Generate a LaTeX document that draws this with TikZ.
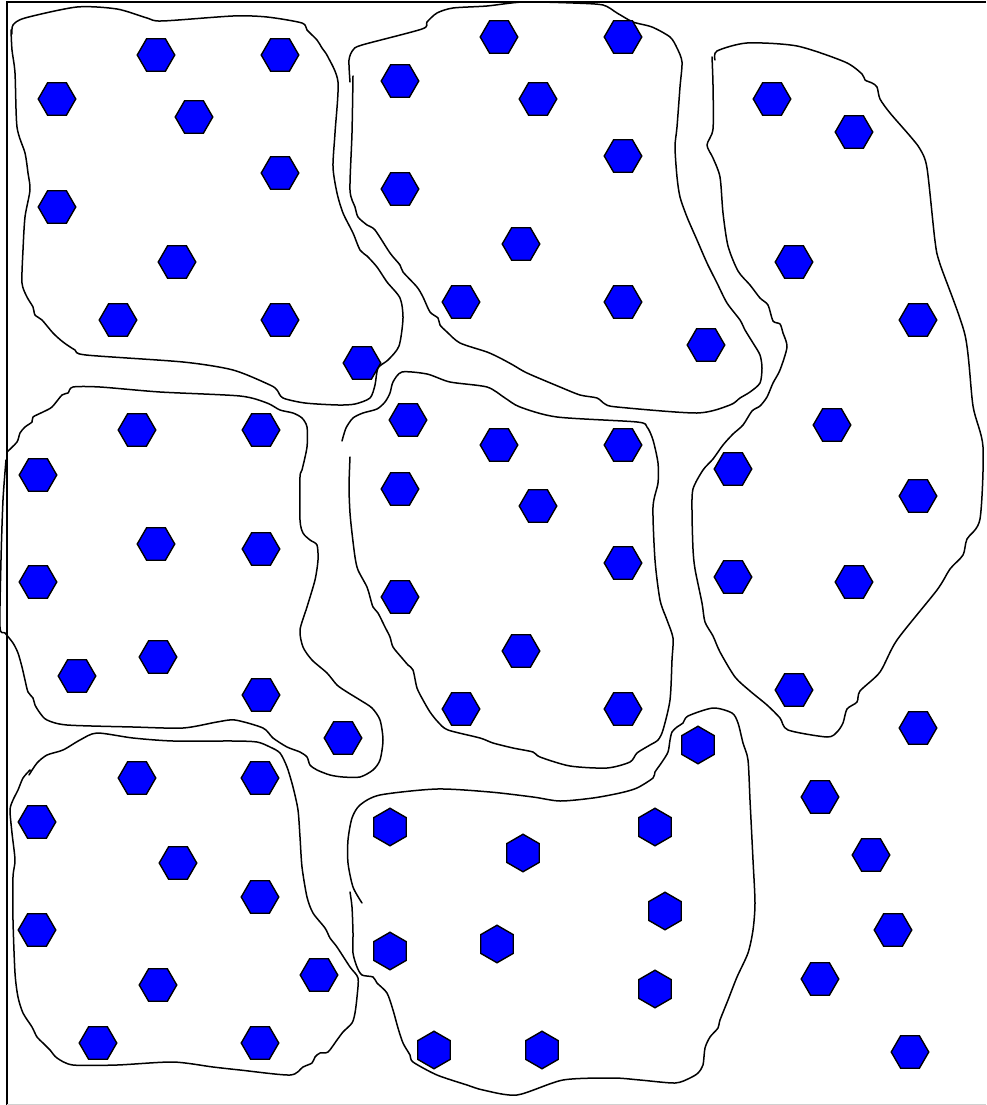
\documentclass[tikz,border=0pt]{standalone}
\usepackage{tikz}
\usetikzlibrary{shapes.geometric}
\definecolor{hexblue}{HTML}{0000FF}
\definecolor{edgegray}{HTML}{D0D0D0}
\tikzset{
  hexcell/.style  = {regular polygon, regular polygon sides=6, draw=black, fill=hexblue,
                     line width=1.4pt, minimum size=37.5pt, inner sep=0pt, outer sep=0pt},
  hexup/.style    = {hexcell, shape border rotate=90},
  blob/.style     = {line width=1.5pt, line join=round, line cap=round},
  framebox/.style = {line width=1.5pt},
}

\begin{document}
\begin{tikzpicture}[x=1pt,y=-1pt]
\useasboundingbox (0,0) rectangle (986,1105);
% frame
\draw[framebox] (7,1105) -- (7,2) -- (986,2);
\draw[edgegray, line width=1pt] (7,1104) -- (986,1104);

% hand drawn groups
\draw[blob] plot[smooth, tension=0.45] coordinates {(12,34) (13,25) (25,18) (77,7) (117,9) (147,18) (162,21) (233,16) (267,17) (302,23) (307,30) (317,40) (322,48) (328,57) (338,82) (335,133) (333,167) (337,193) (343,213) (353,233) (360,250) (367,256) (377,267) (387,282) (400,298) (403,318) (399,346) (388,360) (378,368) (375,385) (370,398) (355,404) (338,405) (305,403) (283,398) (277,390) (270,385) (233,370) (183,362) (86,355) (75,350) (63,342) (53,333) (42,320) (35,315) (33,307) (27,297) (22,283) (23,250) (25,217) (30,190) (28,173) (25,153) (17,127) (15,73) (12,50) (11,30)};
\draw[blob] plot[smooth, tension=0.45] coordinates {(350,82) (349,60) (353,50) (362,45) (422,29) (427,22) (437,13) (453,8) (487,6) (523,2) (573,3) (603,5) (617,13) (633,22) (652,27) (670,37) (677,48) (682,62) (680,87) (677,127) (675,147) (677,177) (680,197) (687,217) (697,240) (707,263) (717,283) (727,303) (740,320) (745,330) (753,343) (760,355) (762,368) (760,383) (750,392) (740,398) (730,405) (697,413) (617,407) (605,404) (597,398) (580,395) (560,387) (527,373) (513,365) (500,358) (487,352) (460,343) (447,332) (440,325) (438,318) (430,312) (423,297) (417,287) (403,272) (400,265) (390,253) (375,230) (367,225) (358,217) (355,207) (350,190) (352,133) (353,76)};
\draw[blob] plot[smooth, tension=0.45] coordinates {(712,57) (713,85) (713,129) (707,145) (713,158) (720,177) (723,213) (728,246) (738,271) (750,285) (760,298) (768,305) (773,321) (780,324) (783,333) (787,347) (780,370) (773,383) (767,397) (760,406) (752,411) (743,425) (733,434) (723,445) (713,459) (703,470) (693,489) (692,512) (693,549) (695,569) (702,603) (705,622) (713,636) (720,652) (735,677) (750,691) (767,705) (780,718) (788,730) (827,737) (837,732) (843,723) (847,709) (857,702) (860,691) (880,672) (897,640) (937,590) (950,569) (963,555) (967,539) (980,519) (983,447) (973,406) (965,335) (940,264) (935,241) (927,168) (920,149) (910,136) (890,113) (880,99) (877,87) (872,83) (865,80) (862,74) (845,62) (797,46) (747,43) (717,51) (715,60)};
\draw[blob] plot[smooth, tension=0.45] coordinates {(7,452) (17,442) (20,433) (25,427) (32,422) (33,417) (43,412) (52,407) (62,395) (68,393) (73,387) (100,387) (160,392) (240,396) (267,403) (280,410) (293,413) (302,418) (307,427) (307,447) (302,470) (300,477) (300,520) (303,533) (310,540) (317,545) (318,560) (315,580) (307,607) (300,630) (303,647) (312,660) (327,673) (337,685) (347,692) (360,700) (372,708) (380,720) (383,740) (380,760) (373,770) (360,777) (343,777) (330,775) (317,770) (310,765) (307,757) (300,752) (287,747) (273,738) (263,728) (235,720) (217,722) (183,728) (133,727) (67,725) (47,720) (40,713) (35,705) (33,698) (28,692) (25,680) (22,667) (18,653) (13,643) (5,633) (0,627) (1,560) (3,500) (6,460)};
\draw[blob] plot[smooth, tension=0.45] coordinates {(342,441) (346,428) (353,418) (363,413) (377,409) (385,402) (390,393) (393,382) (402,372) (427,374) (450,382) (487,387) (505,398) (520,407) (557,417) (637,422) (647,427) (653,440) (658,463) (658,483) (653,507) (655,560) (660,600) (667,620) (673,638) (672,660) (670,700) (663,730) (658,740) (650,745) (637,753) (630,762) (607,768) (570,766) (540,757) (533,752) (513,748) (493,743) (480,738) (448,730) (438,722) (430,712) (423,700) (417,688) (413,670) (408,665) (402,658) (393,647) (390,637) (385,627) (378,613) (373,607) (370,597) (367,587) (358,570) (355,557) (352,533) (350,513) (349,487) (350,457)};
\draw[blob] plot[smooth, tension=0.45] coordinates {(29,775) (37,763) (47,755) (63,750) (80,740) (97,733) (133,738) (173,741) (233,741) (257,742) (270,747) (280,753) (287,767) (293,787) (298,810) (300,837) (302,867) (307,897) (313,913) (325,928) (330,938) (337,947) (350,967) (358,978) (357,997) (355,1013) (352,1023) (343,1032) (337,1040) (328,1052) (320,1053) (315,1057) (312,1063) (303,1067) (290,1075) (240,1070) (213,1067) (173,1062) (117,1065) (73,1065) (57,1058) (50,1050) (43,1043) (37,1037) (32,1027) (23,1013) (18,997) (15,973) (13,920) (13,877) (15,860) (12,833) (10,810) (13,800) (18,790) (23,778) (30,770)};
\draw[blob] plot[smooth, tension=0.45] coordinates {(362,903) (353,887) (348,863) (348,840) (352,818) (360,805) (380,795) (437,789) (490,792) (533,797) (560,801) (593,798) (620,793) (637,788) (653,778) (655,772) (662,762) (668,752) (670,740) (672,732) (677,727) (683,723) (688,716) (713,708) (732,713) (738,723) (743,743) (748,760) (750,800) (753,860) (755,903) (753,930) (748,953) (737,977) (728,1000) (720,1020) (718,1028) (710,1037) (705,1048) (703,1065) (698,1073) (690,1078) (675,1083) (640,1080) (613,1078) (563,1080) (517,1095) (483,1090) (467,1085) (437,1075) (413,1062) (410,1055) (403,1043) (398,1028) (393,1010) (387,993) (377,983) (373,977) (362,975) (357,967) (353,953) (353,933) (352,907) (350,892)};

% hexagons, one loop per group
\foreach \x/\y [count=\i] in {156/55, 280/55, 57/99, 194/117, 280/173, 57/207, 177/262, 118/320, 280/320, 362/363}
  \node[hexcell] (tl\i) at (\x,\y) {};
\foreach \x/\y [count=\i] in {499/37, 623/37, 400/81, 538/99, 623/156, 400/189, 521/244, 461/302, 623/302, 706/345}
  \node[hexcell] (tm\i) at (\x,\y) {};
\foreach \x/\y [count=\i] in {772/99, 854/132, 794/262, 918/320, 832/425, 733/469, 918/496, 733/577, 854/582, 794/690}
  \node[hexcell] (rt\i) at (\x,\y) {};
\foreach \x/\y [count=\i] in {137/430, 261/430, 38/475, 156/544, 261/549, 38/582, 158/657, 77/676, 261/695, 343/738}
  \node[hexcell] (ml\i) at (\x,\y) {};
\foreach \x/\y [count=\i] in {408/420, 499/445, 623/445, 400/489, 538/506, 623/563, 400/597, 521/651, 461/709, 623/709}
  \node[hexcell] (mm\i) at (\x,\y) {};
\foreach \x/\y [count=\i] in {137/778, 260/778, 37/822, 178/863, 260/897, 37/930, 319/975, 158/985, 98/1043, 260/1043}
  \node[hexcell] (bl\i) at (\x,\y) {};
\foreach \x/\y [count=\i] in {698/745, 390/827, 655/827, 523/853, 665/911, 390/951, 497/944, 655/989, 434/1050, 542/1050}
  \node[hexup] (bm\i) at (\x,\y) {};
% loose ones
\foreach \x/\y [count=\i] in {918/728, 820/797, 871/855, 893/930, 820/979, 910/1052}
  \node[hexcell] (fr\i) at (\x,\y) {};
\end{tikzpicture}
\end{document}
